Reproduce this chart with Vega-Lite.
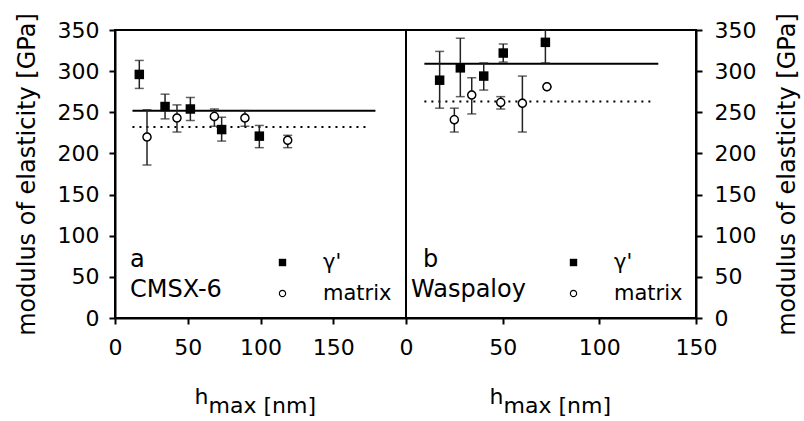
{
  "$schema": "https://vega.github.io/schema/vega-lite/v6.json",
  "background": "white",
  "padding": {"top": 11, "left": 14, "right": 2, "bottom": 2},
  "bounds": "flush",
  "spacing": 0,
  "config": {
    "font": "DejaVu Sans",
    "view": {"stroke": "black", "strokeWidth": 2},
    "axis": {
      "domainColor": "black", "domainWidth": 2, "tickColor": "black", "tickWidth": 2, "tickSize": 6,
      "labelFontSize": 22, "labelColor": "black", "titleColor": "black", "titleFontWeight": "normal",
      "grid": false, "labelFont": "DejaVu Sans", "titleFont": "DejaVu Sans", "labelFlush": false
    },
    "legend": {
      "labelFontSize": 21, "symbolSize": 55, "rowPadding": 9, "labelOffset": 30,
      "labelColor": "black", "labelFont": "DejaVu Sans", "symbolStrokeWidth": 0
    },
    "title": {"font": "DejaVu Sans", "fontSize": 24, "fontWeight": "normal", "color": "black", "lineHeight": 30}
  },
  "datasets": {
    "pts": [
      {"alloy": "CMSX-6", "phase": "γ'", "x": 16.7, "E": 296, "lo": 279, "hi": 313},
      {"alloy": "CMSX-6", "phase": "γ'", "x": 34.4, "E": 257, "lo": 242, "hi": 272},
      {"alloy": "CMSX-6", "phase": "γ'", "x": 51.8, "E": 254, "lo": 240, "hi": 268},
      {"alloy": "CMSX-6", "phase": "γ'", "x": 73.3, "E": 229, "lo": 215, "hi": 244},
      {"alloy": "CMSX-6", "phase": "γ'", "x": 99.2, "E": 221, "lo": 207, "hi": 234},
      {"alloy": "CMSX-6", "phase": "matrix", "x": 22, "E": 220, "lo": 186, "hi": 253},
      {"alloy": "CMSX-6", "phase": "matrix", "x": 42.6, "E": 243, "lo": 226, "hi": 259},
      {"alloy": "CMSX-6", "phase": "matrix", "x": 68.3, "E": 245, "lo": 233, "hi": 254},
      {"alloy": "CMSX-6", "phase": "matrix", "x": 89.3, "E": 243, "lo": 233, "hi": 252},
      {"alloy": "CMSX-6", "phase": "matrix", "x": 118.7, "E": 216, "lo": 207, "hi": 222},
      {"alloy": "Waspaloy", "phase": "γ'", "x": 17.4, "E": 289, "lo": 255, "hi": 324},
      {"alloy": "Waspaloy", "phase": "γ'", "x": 28.1, "E": 304, "lo": 269, "hi": 340},
      {"alloy": "Waspaloy", "phase": "γ'", "x": 40.2, "E": 294, "lo": 277, "hi": 310},
      {"alloy": "Waspaloy", "phase": "γ'", "x": 50.3, "E": 322, "lo": 311, "hi": 333},
      {"alloy": "Waspaloy", "phase": "γ'", "x": 72.1, "E": 335, "lo": 310, "hi": 350},
      {"alloy": "Waspaloy", "phase": "matrix", "x": 25, "E": 241, "lo": 226, "hi": 255},
      {"alloy": "Waspaloy", "phase": "matrix", "x": 34, "E": 271, "lo": 248, "hi": 292},
      {"alloy": "Waspaloy", "phase": "matrix", "x": 49, "E": 262, "lo": 254, "hi": 269},
      {"alloy": "Waspaloy", "phase": "matrix", "x": 60.2, "E": 261, "lo": 226, "hi": 294},
      {"alloy": "Waspaloy", "phase": "matrix", "x": 72.9, "E": 281, "lo": 281, "hi": 281}
    ],
    "lines": [
      {"alloy": "CMSX-6", "phase": "γ'", "x": 12, "xend": 179, "E": 252},
      {"alloy": "CMSX-6", "phase": "matrix", "x": 12, "xend": 175, "E": 232},
      {"alloy": "Waspaloy", "phase": "γ'", "x": 9.5, "xend": 130.5, "E": 309},
      {"alloy": "Waspaloy", "phase": "matrix", "x": 9.5, "xend": 129, "E": 263}
    ]
  },
  "hconcat": [
    {
      "width": 291,
      "height": 288,
      "title": {"text": ["a", "CMSX-6"], "orient": "bottom", "frame": "group", "anchor": "start", "offset": -168, "dx": 15, "align": "left"},
      "layer": [
        {
          "data": {"name": "lines"},
          "transform": [{"filter": "datum.alloy === 'CMSX-6'"}],
          "mark": {"type": "rule", "color": "black", "strokeWidth": 2},
          "encoding": {
            "x": {"field": "x", "type": "quantitative", "scale": {"domain": [0, 200], "nice": false},
              "axis": {"values": [0, 50, 100, 150], "title": ["h", "\u200b\u2007max [nm]"], "titleFontSize": 22, "titleLineHeight": 9, "labelPadding": 13, "titlePadding": 28, "titleX": 79, "titleAlign": "left"}},
            "x2": {"field": "xend"},
            "y": {"field": "E", "type": "quantitative", "scale": {"domain": [0, 350], "nice": false},
              "axis": {"values": [0, 50, 100, 150, 200, 250, 300, 350], "title": "modulus of elasticity [GPa]", "titleFontSize": 24, "titlePadding": 18, "labelPadding": 10}},
            "strokeDash": {"field": "phase", "type": "nominal", "scale": {"domain": ["γ'", "matrix"], "range": [[1, 0], [2, 5]]}, "legend": null}
          }
        },
        {
          "data": {"name": "pts"},
          "transform": [{"filter": "datum.alloy === 'CMSX-6'"}],
          "mark": {"type": "errorbar", "color": "#222", "thickness": 1.5, "ticks": {"size": 9, "thickness": 1.5, "color": "#222"}},
          "encoding": {
            "x": {"field": "x", "type": "quantitative", "scale": {"domain": [0, 200], "nice": false},
              "axis": {"values": [0, 50, 100, 150], "title": ["h", "\u200b\u2007max [nm]"], "titleFontSize": 22, "titleLineHeight": 9, "labelPadding": 13, "titlePadding": 28, "titleX": 79, "titleAlign": "left"}},
            "y": {"field": "lo", "type": "quantitative", "scale": {"domain": [0, 350], "nice": false},
              "axis": {"values": [0, 50, 100, 150, 200, 250, 300, 350], "title": "modulus of elasticity [GPa]", "titleFontSize": 24, "titlePadding": 18, "labelPadding": 10}},
            "y2": {"field": "hi"}
          }
        },
        {
          "data": {"name": "pts"},
          "transform": [{"filter": "datum.alloy === 'CMSX-6' && datum.phase === 'matrix'"}],
          "mark": {"type": "point", "shape": "circle", "filled": true, "color": "white", "size": 70, "opacity": 1},
          "encoding": {
            "x": {"field": "x", "type": "quantitative", "scale": {"domain": [0, 200], "nice": false},
              "axis": {"values": [0, 50, 100, 150], "title": ["h", "\u200b\u2007max [nm]"], "titleFontSize": 22, "titleLineHeight": 9, "labelPadding": 13, "titlePadding": 28, "titleX": 79, "titleAlign": "left"}},
            "y": {"field": "E", "type": "quantitative", "scale": {"domain": [0, 350], "nice": false},
              "axis": {"values": [0, 50, 100, 150, 200, 250, 300, 350], "title": "modulus of elasticity [GPa]", "titleFontSize": 24, "titlePadding": 18, "labelPadding": 10}}
          }
        },
        {
          "data": {"name": "pts"},
          "transform": [{"filter": "datum.alloy === 'CMSX-6'"}],
          "mark": {"type": "point", "filled": true, "color": "black", "strokeWidth": 0, "size": 90, "opacity": 1},
          "encoding": {
            "x": {"field": "x", "type": "quantitative", "scale": {"domain": [0, 200], "nice": false},
              "axis": {"values": [0, 50, 100, 150], "title": ["h", "\u200b\u2007max [nm]"], "titleFontSize": 22, "titleLineHeight": 9, "labelPadding": 13, "titlePadding": 28, "titleX": 79, "titleAlign": "left"}},
            "y": {"field": "E", "type": "quantitative", "scale": {"domain": [0, 350], "nice": false},
              "axis": {"values": [0, 50, 100, 150, 200, 250, 300, 350], "title": "modulus of elasticity [GPa]", "titleFontSize": 24, "titlePadding": 18, "labelPadding": 10}},
            "shape": {"field": "phase", "type": "nominal",
              "scale": {"domain": ["γ'", "matrix"], "range": ["square", "M -1 0 A 1 1 0 1 1 1 0 A 1 1 0 1 1 -1 0 Z M -0.7 0 A 0.7 0.7 0 1 0 0.7 0 A 0.7 0.7 0 1 0 -0.7 0 Z"]},
              "legend": {"orient": "none", "legendX": 157, "legendY": 222, "title": null}}
          }
        }
      ]
    },
    {
      "width": 290,
      "height": 288,
      "title": {"text": ["\u200b\u2002b", "Waspaloy"], "orient": "bottom", "frame": "group", "anchor": "start", "offset": -168, "dx": 5, "align": "left"},
      "layer": [
        {
          "data": {"name": "lines"},
          "transform": [{"filter": "datum.alloy === 'Waspaloy'"}],
          "mark": {"type": "rule", "color": "black", "strokeWidth": 2},
          "encoding": {
            "x": {"field": "x", "type": "quantitative", "scale": {"domain": [0, 150], "nice": false},
              "axis": {"values": [0, 50, 100, 150], "title": ["h", "\u200b\u2007max [nm]"], "titleFontSize": 22, "titleLineHeight": 9, "labelPadding": 13, "titlePadding": 28, "titleX": 83, "titleAlign": "left"}},
            "x2": {"field": "xend"},
            "y": {"field": "E", "type": "quantitative", "scale": {"domain": [0, 350], "nice": false},
              "axis": {"orient": "right", "values": [0, 50, 100, 150, 200, 250, 300, 350], "title": "modulus of elasticity [GPa]", "titleFontSize": 24, "titlePadding": 20, "labelPadding": 12, "titleAngle": 270, "titleBaseline": "top"}},
            "strokeDash": {"field": "phase", "type": "nominal", "scale": {"domain": ["γ'", "matrix"], "range": [[1, 0], [2, 5]]}, "legend": null}
          }
        },
        {
          "data": {"name": "pts"},
          "transform": [{"filter": "datum.alloy === 'Waspaloy'"}],
          "mark": {"type": "errorbar", "color": "#222", "thickness": 1.5, "ticks": {"size": 9, "thickness": 1.5, "color": "#222"}},
          "encoding": {
            "x": {"field": "x", "type": "quantitative", "scale": {"domain": [0, 150], "nice": false},
              "axis": {"values": [0, 50, 100, 150], "title": ["h", "\u200b\u2007max [nm]"], "titleFontSize": 22, "titleLineHeight": 9, "labelPadding": 13, "titlePadding": 28, "titleX": 83, "titleAlign": "left"}},
            "y": {"field": "lo", "type": "quantitative", "scale": {"domain": [0, 350], "nice": false},
              "axis": {"orient": "right", "values": [0, 50, 100, 150, 200, 250, 300, 350], "title": "modulus of elasticity [GPa]", "titleFontSize": 24, "titlePadding": 20, "labelPadding": 12, "titleAngle": 270, "titleBaseline": "top"}},
            "y2": {"field": "hi"}
          }
        },
        {
          "data": {"name": "pts"},
          "transform": [{"filter": "datum.alloy === 'Waspaloy' && datum.phase === 'matrix'"}],
          "mark": {"type": "point", "shape": "circle", "filled": true, "color": "white", "size": 70, "opacity": 1},
          "encoding": {
            "x": {"field": "x", "type": "quantitative", "scale": {"domain": [0, 150], "nice": false},
              "axis": {"values": [0, 50, 100, 150], "title": ["h", "\u200b\u2007max [nm]"], "titleFontSize": 22, "titleLineHeight": 9, "labelPadding": 13, "titlePadding": 28, "titleX": 83, "titleAlign": "left"}},
            "y": {"field": "E", "type": "quantitative", "scale": {"domain": [0, 350], "nice": false},
              "axis": {"orient": "right", "values": [0, 50, 100, 150, 200, 250, 300, 350], "title": "modulus of elasticity [GPa]", "titleFontSize": 24, "titlePadding": 20, "labelPadding": 12, "titleAngle": 270, "titleBaseline": "top"}}
          }
        },
        {
          "data": {"name": "pts"},
          "transform": [{"filter": "datum.alloy === 'Waspaloy'"}],
          "mark": {"type": "point", "filled": true, "color": "black", "strokeWidth": 0, "size": 90, "opacity": 1},
          "encoding": {
            "x": {"field": "x", "type": "quantitative", "scale": {"domain": [0, 150], "nice": false},
              "axis": {"values": [0, 50, 100, 150], "title": ["h", "\u200b\u2007max [nm]"], "titleFontSize": 22, "titleLineHeight": 9, "labelPadding": 13, "titlePadding": 28, "titleX": 83, "titleAlign": "left"}},
            "y": {"field": "E", "type": "quantitative", "scale": {"domain": [0, 350], "nice": false},
              "axis": {"orient": "right", "values": [0, 50, 100, 150, 200, 250, 300, 350], "title": "modulus of elasticity [GPa]", "titleFontSize": 24, "titlePadding": 20, "labelPadding": 12, "titleAngle": 270, "titleBaseline": "top"}},
            "shape": {"field": "phase", "type": "nominal",
              "scale": {"domain": ["γ'", "matrix"], "range": ["square", "M -1 0 A 1 1 0 1 1 1 0 A 1 1 0 1 1 -1 0 Z M -0.7 0 A 0.7 0.7 0 1 0 0.7 0 A 0.7 0.7 0 1 0 -0.7 0 Z"]},
              "legend": {"orient": "none", "legendX": 157, "legendY": 222, "title": null}}
          }
        }
      ]
    }
  ],
  "resolve": {"scale": {"shape": "independent"}}
}
